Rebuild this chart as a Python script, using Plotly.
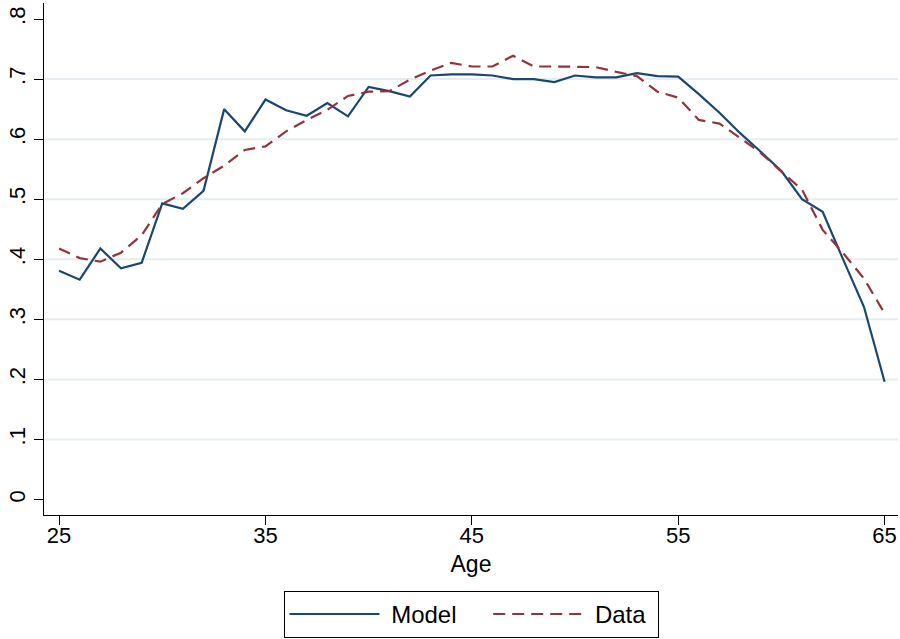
import plotly.graph_objects as go

ages = list(range(25, 66))
model = [0.381, 0.366, 0.418, 0.385, 0.394, 0.493, 0.484, 0.514, 0.650, 0.613,
         0.666, 0.648, 0.639, 0.660, 0.638, 0.687, 0.680, 0.671, 0.706, 0.708,
         0.708, 0.706, 0.700, 0.700, 0.695, 0.706, 0.703, 0.703, 0.710, 0.705,
         0.704, 0.675, 0.644, 0.610, 0.579, 0.547, 0.500, 0.479, 0.399, 0.321, 0.196]
data = [0.418, 0.402, 0.396, 0.411, 0.440, 0.492, 0.510, 0.535, 0.556, 0.582,
        0.588, 0.613, 0.632, 0.649, 0.672, 0.679, 0.680, 0.699, 0.714, 0.727,
        0.721, 0.721, 0.739, 0.721, 0.721, 0.720, 0.720, 0.712, 0.705, 0.679,
        0.669, 0.632, 0.626, 0.602, 0.577, 0.546, 0.516, 0.449, 0.410, 0.368, 0.310]

x_ticks = [25, 35, 45, 55, 65]
y_ticks = [0, 0.1, 0.2, 0.3, 0.4, 0.5, 0.6, 0.7, 0.8]
y_ticktext = ["0", ".1", ".2", ".3", ".4", ".5", ".6", ".7", ".8"]
grid_vals = [0.1, 0.2, 0.3, 0.4, 0.5, 0.6, 0.7]
series_names = ["Model", "Data"]

FONT = "Liberation Sans, Arial, Helvetica, sans-serif"
NAVY = "#1a476f"
MAROON = "#90353b"
NB = "\u00a0"

fig = go.Figure()
fig.add_trace(go.Scatter(x=ages, y=model, mode="lines", name=NB + series_names[0] + NB * 4,
                         line=dict(color=NAVY, width=2.2)))
fig.add_trace(go.Scatter(x=ages, y=data, mode="lines", name=NB + series_names[1] + NB,
                         line=dict(color=MAROON, width=2.2, dash="12px,7px")))

shapes = [dict(type="line", xref="paper", yref="y", x0=0, x1=1, y0=g, y1=g,
               line=dict(color="#e6edf0", width=2), layer="below") for g in grid_vals]

fig.update_layout(
    width=900, height=639,
    margin=dict(l=44, r=2, t=3, b=124, autoexpand=False),
    paper_bgcolor="white", plot_bgcolor="white",
    font=dict(family=FONT, size=22, color="black"),
    shapes=shapes,
    xaxis=dict(range=[24.27, 65.65], tickvals=x_ticks, ticks="outside", ticklen=9,
               tickcolor="black", showline=True, linecolor="black", linewidth=1,
               showgrid=False, zeroline=False, ticklabelstandoff=-8,
               title=dict(text="Age", font=dict(size=23), standoff=8),
               tickfont=dict(size=22)),
    yaxis=dict(range=[-0.0257, 0.8267], tickvals=y_ticks, ticktext=y_ticktext,
               tickangle=-90, ticks="outside", ticklen=9, tickcolor="black",
               showline=True, linecolor="black", linewidth=1,
               showgrid=False, zeroline=False, tickfont=dict(size=22)),
    legend=dict(orientation="h", x=0.5, xanchor="center", y=-0.24, yanchor="bottom",
                bordercolor="black", borderwidth=1, font=dict(size=24),
                itemwidth=90, bgcolor="white"),
)

fig.write_html("out.html", config={"displayModeBar": False},
               post_script="document.body.style.margin='0';document.body.style.overflow='hidden';")
